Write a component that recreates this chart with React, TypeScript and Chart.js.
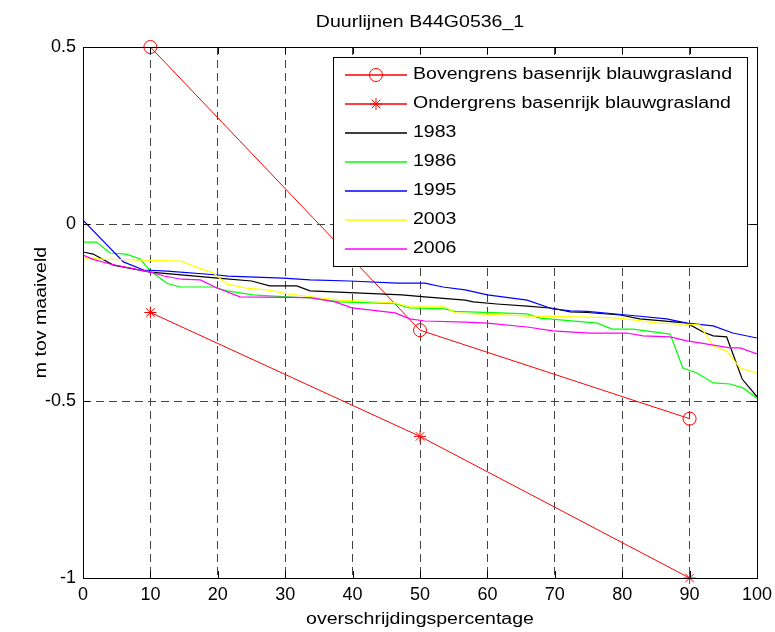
import React, { useEffect, useRef } from "react";
import { Chart, registerables } from "chart.js";

Chart.register(...registerables);

const TITLE = "Duurlijnen B44G0536_1";
const X_TITLE = "overschrijdingspercentage";
const Y_TITLE = "m tov maaiveld";

const boundPct = [10, 50, 90];
const upperBound = [0.5, -0.3, -0.55];
const lowerBound = [-0.25, -0.6, -1.0];

const pct1983 = [0, 1.5, 4.5, 10, 20, 25, 27.7, 31.7, 33.7, 39.6, 47.3, 50.7, 56.7, 57.9, 61.4, 65.9, 69.7, 72.3, 74.8, 79.7, 82.6, 88.1, 89.6, 92, 93.5, 95.5, 97.8, 100];
const val1983 = [-0.079, -0.085, -0.116, -0.136, -0.153, -0.161, -0.175, -0.175, -0.189, -0.194, -0.2, -0.206, -0.215, -0.22, -0.226, -0.232, -0.238, -0.248, -0.25, -0.257, -0.268, -0.277, -0.28, -0.305, -0.316, -0.319, -0.438, -0.488];

const pct1986 = [0, 2, 4, 6.4, 8.5, 10, 12.5, 14.5, 19.3, 21.4, 25.2, 30.3, 33.7, 38.1, 46.3, 48.5, 53.7, 55.2, 65.9, 67.8, 76.3, 78.5, 81.6, 87.1, 89, 91.1, 93.5, 96, 97.9, 100];
const val1986 = [-0.051, -0.051, -0.082, -0.085, -0.099, -0.133, -0.168, -0.178, -0.178, -0.189, -0.2, -0.206, -0.209, -0.22, -0.225, -0.237, -0.24, -0.247, -0.254, -0.266, -0.28, -0.297, -0.297, -0.311, -0.407, -0.421, -0.449, -0.452, -0.463, -0.492];

const pct1995 = [0, 6, 9, 12.5, 20, 21.5, 29.7, 33.7, 39.6, 46.6, 50.7, 53.4, 56.7, 60, 65.9, 69.7, 72.3, 74.8, 80.7, 86.6, 89.6, 93.5, 96.4, 100];
const val1995 = [0.011, -0.107, -0.13, -0.133, -0.144, -0.147, -0.153, -0.158, -0.161, -0.167, -0.167, -0.178, -0.186, -0.2, -0.215, -0.24, -0.245, -0.247, -0.257, -0.268, -0.28, -0.288, -0.308, -0.322];

const pct2003 = [0, 3, 14.6, 16.8, 19.3, 21.4, 24.3, 27.3, 30.3, 33.7, 38.1, 46.3, 48.5, 53.7, 55.2, 66.3, 75.2, 79.7, 85.2, 91.5, 93.5, 95.5, 97.5, 100];
const val2003 = [-0.096, -0.099, -0.105, -0.122, -0.138, -0.17, -0.181, -0.186, -0.197, -0.205, -0.215, -0.223, -0.234, -0.234, -0.251, -0.26, -0.263, -0.266, -0.28, -0.285, -0.345, -0.359, -0.407, -0.421];

const pct2006 = [0, 1.5, 4, 10, 12, 14.6, 17.4, 19.9, 23.3, 33.7, 37.4, 39.9, 46.3, 48.5, 50.7, 56.7, 60, 65.9, 69.7, 75.2, 80.7, 83.1, 87.1, 89.6, 91.5, 96, 97.5, 100];
const val2006 = [-0.088, -0.1, -0.113, -0.136, -0.147, -0.156, -0.158, -0.181, -0.206, -0.208, -0.22, -0.237, -0.251, -0.268, -0.274, -0.277, -0.28, -0.291, -0.302, -0.308, -0.308, -0.316, -0.319, -0.33, -0.336, -0.35, -0.35, -0.367];

const legendLabels = [
  "Bovengrens basenrijk blauwgrasland",
  "Ondergrens basenrijk blauwgrasland",
  "1983",
  "1986",
  "1995",
  "2003",
  "2006",
];

const FONT = "'Liberation Sans', Arial, Helvetica, sans-serif";
const STRETCH = 1.22;

const zip = (xs: number[], ys: number[]) => xs.map((x, i) => ({ x, y: ys[i] }));

function stretchedText(ctx: CanvasRenderingContext2D, text: string, x: number, y: number, rot: number, align: CanvasTextAlign, size: number) {
  ctx.save();
  ctx.translate(x, y);
  ctx.rotate(rot);
  ctx.scale(STRETCH, 1);
  ctx.font = `${size}px ${FONT}`;
  ctx.fillStyle = "#000";
  ctx.textAlign = align;
  ctx.textBaseline = "middle";
  ctx.fillText(text, 0, 0);
  ctx.restore();
}

function drawStar(ctx: CanvasRenderingContext2D, x: number, y: number, r: number) {
  const d = r * Math.SQRT1_2;
  ctx.beginPath();
  ctx.moveTo(x - r, y); ctx.lineTo(x + r, y);
  ctx.moveTo(x, y - r); ctx.lineTo(x, y + r);
  ctx.moveTo(x - d, y - d); ctx.lineTo(x + d, y + d);
  ctx.moveTo(x - d, y + d); ctx.lineTo(x + d, y - d);
  ctx.stroke();
}

const decorPlugin = {
  id: "decor",
  afterDraw(chart: any) {
    const ctx: CanvasRenderingContext2D = chart.ctx;
    const { left, right, top, bottom } = chart.chartArea;
    const xs = chart.scales.x;
    const ys = chart.scales.y;

    // axes box
    ctx.save();
    ctx.strokeStyle = "#000";
    ctx.lineWidth = 1;
    ctx.setLineDash([]);
    ctx.strokeRect(Math.round(left) + 0.5, Math.round(top) + 0.5, Math.round(right - left), Math.round(bottom - top));
    // inward ticks
    const tl = 7;
    ctx.beginPath();
    xs.ticks.forEach((t: any) => {
      const px = Math.round(xs.getPixelForValue(t.value)) + 0.5;
      ctx.moveTo(px, bottom); ctx.lineTo(px, bottom - tl);
      ctx.moveTo(px, top); ctx.lineTo(px, top + tl);
    });
    ys.ticks.forEach((t: any) => {
      const py = Math.round(ys.getPixelForValue(t.value)) + 0.5;
      ctx.moveTo(left, py); ctx.lineTo(left + tl, py);
      ctx.moveTo(right, py); ctx.lineTo(right - tl, py);
    });
    ctx.stroke();
    ctx.restore();

    // titles
    stretchedText(ctx, TITLE, (left + right) / 2, 23, 0, "center", 16);
    stretchedText(ctx, X_TITLE, (left + right) / 2, 620, 0, "center", 16);
    stretchedText(ctx, Y_TITLE, 42, (top + bottom) / 2, -Math.PI / 2, "center", 16);

    // legend
    const bx = 333, by = 57, bw = 414, bh = 209;
    ctx.save();
    ctx.fillStyle = "#fff";
    ctx.fillRect(bx, by, bw, bh);
    ctx.strokeStyle = "#000";
    ctx.lineWidth = 1;
    ctx.strokeRect(bx + 0.5, by + 0.5, bw, bh);
    const dsets = chart.data.datasets;
    legendLabels.forEach((lab, i) => {
      const cy = 75 + i * 29;
      const ds = dsets[i];
      ctx.strokeStyle = ds.borderColor;
      ctx.lineWidth = 1.3;
      ctx.beginPath();
      ctx.moveTo(345, cy);
      ctx.lineTo(407, cy);
      ctx.stroke();
      ctx.lineWidth = 1;
      if (i === 0) {
        ctx.beginPath();
        ctx.arc(376, cy, 6.5, 0, Math.PI * 2);
        ctx.stroke();
      } else if (i === 1) {
        drawStar(ctx, 376, cy, 6);
      }
      stretchedText(ctx, lab, 413, cy, 0, "left", 16);
    });
    ctx.restore();
  },
};

export default function App() {
  const ref = useRef<HTMLCanvasElement | null>(null);

  useEffect(() => {
    if (!ref.current) return;
    const lineDs = (label: string, xs: number[], ys: number[], color: string, order: number) => ({
      label,
      data: zip(xs, ys),
      borderColor: color,
      backgroundColor: color,
      borderWidth: 1.2,
      pointRadius: 0,
      tension: 0,
      fill: false,
      order,
    });
    const chart = new Chart(ref.current, {
      type: "line",
      data: {
        datasets: [
          {
            label: legendLabels[0],
            data: zip(boundPct, upperBound),
            borderColor: "#ff0000",
            backgroundColor: "rgba(0,0,0,0)",
            borderWidth: 1,
            pointStyle: "circle",
            pointRadius: 6.5,
            pointBorderWidth: 1,
            pointBorderColor: "#ff0000",
            pointBackgroundColor: "rgba(0,0,0,0)",
            fill: false,
            clip: false,
            order: 6,
          },
          {
            label: legendLabels[1],
            data: zip(boundPct, lowerBound),
            borderColor: "#ff0000",
            backgroundColor: "rgba(0,0,0,0)",
            borderWidth: 1,
            pointStyle: "star",
            pointRadius: 6,
            pointBorderWidth: 1,
            pointBorderColor: "#ff0000",
            fill: false,
            clip: false,
            order: 5,
          },
          lineDs(legendLabels[2], pct1983, val1983, "#000000", 4),
          lineDs(legendLabels[3], pct1986, val1986, "#00ff00", 3),
          lineDs(legendLabels[4], pct1995, val1995, "#0000ff", 2),
          lineDs(legendLabels[5], pct2003, val2003, "#ffff00", 1),
          lineDs(legendLabels[6], pct2006, val2006, "#ff00ff", 0),
        ] as any,
      },
      options: {
        animation: false,
        responsive: false,
        maintainAspectRatio: false,
        layout: { padding: { top: 47, right: 18, left: 0, bottom: 0 } },
        plugins: {
          legend: { display: false },
          title: { display: false },
          tooltip: { enabled: false },
        },
        scales: {
          x: {
            type: "linear",
            min: 0,
            max: 100,
            ticks: {
              stepSize: 10,
              autoSkip: false,
              maxRotation: 0,
              padding: 6,
              color: "#000",
              font: { family: FONT, size: 18 },
              callback: (v: any) => `${+v}`,
            },
            grid: { color: "#444", lineWidth: 1, drawTicks: false },
            border: { display: false, dash: [8, 5] },
            afterFit: (s: any) => {
              s.height = 54;
              s.paddingLeft = 0;
              s.paddingRight = 0;
            },
          },
          y: {
            type: "linear",
            min: -1,
            max: 0.5,
            ticks: {
              stepSize: 0.5,
              padding: 7,
              color: "#000",
              font: { family: FONT, size: 18 },
              callback: (v: any) => `${+v}`,
            },
            grid: { color: "#444", lineWidth: 1, drawTicks: false },
            border: { display: false, dash: [8, 5] },
            afterFit: (s: any) => {
              s.width = 83;
              s.paddingTop = 0;
              s.paddingBottom = 0;
            },
          },
        },
      } as any,
      plugins: [decorPlugin],
    });
    return () => chart.destroy();
  }, []);

  return (
    <div style={{ position: "absolute", left: 0, top: 0, width: 775, height: 632, background: "#fff" }}>
      <canvas ref={ref} width={775} height={632} style={{ display: "block" }} />
    </div>
  );
}
